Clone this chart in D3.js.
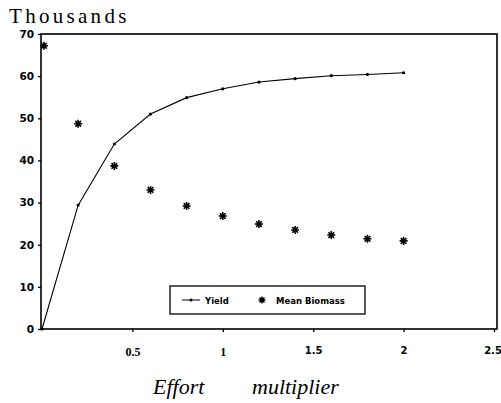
<!DOCTYPE html>
<html><head><meta charset="utf-8">
<script src="https://cdn.jsdelivr.net/npm/d3@7"></script>
<style>body{margin:0;background:#fff}</style>
</head><body>
<svg id="c" width="501" height="403"></svg>
<script>
const effort = [0, 0.2, 0.4, 0.6, 0.8, 1.0, 1.2, 1.4, 1.6, 1.8, 2.0];
const yieldVals = [0, 29.4, 43.9, 51.0, 54.9, 57.0, 58.6, 59.4, 60.1, 60.4, 60.8];
const biomassVals = [67.2, 48.7, 38.7, 33.0, 29.2, 26.8, 24.9, 23.5, 22.3, 21.4, 20.9];
const xTicks = [0.5, 1, 1.5, 2, 2.5];
const xTickLabels = ["0.5", "1", "1.5", "2", "2.5"];
const yTicks = [0, 10, 20, 30, 40, 50, 60, 70];

const svg = d3.select("#c");
const L = 42, R = 494, T = 34, B = 329;
const x = d3.scaleLinear().domain([0, 2.5]).range([L, R]);
const y = d3.scaleLinear().domain([0, 70]).range([B, T]);

// frame
svg.append("rect").attr("x", 41).attr("y", T).attr("width", 497 - 41).attr("height", B - T)
  .attr("fill", "none").attr("stroke", "#000").attr("stroke-width", 1.6);

// y axis
const yAx = svg.append("g").attr("transform", `translate(${41},0)`)
  .call(d3.axisLeft(y).tickValues(yTicks).tickSize(3).tickPadding(4).tickFormat(d3.format("d")));
yAx.select(".domain").remove();
yAx.selectAll("line").attr("stroke-width", 1.3);
yAx.selectAll("text").attr("font-family", "DejaVu Sans").attr("font-weight", "bold")
  .attr("font-size", 10.5).attr("fill", "#000");

// x axis
const xAx = svg.append("g").attr("transform", `translate(0,${B})`)
  .call(d3.axisBottom(x).tickValues(xTicks).tickSize(3).tickPadding(15)
    .tickFormat((d, i) => xTickLabels[i]));
xAx.select(".domain").remove();
xAx.selectAll("line").attr("stroke-width", 1.3);
xAx.selectAll("text").attr("fill", "#000").attr("font-weight", "bold")
  .attr("font-family", (d, i) => i < 2 ? "Liberation Serif" : "DejaVu Sans")
  .attr("font-size", (d, i) => i < 2 ? 12 : 10)
  .attr("dx", (d, i) => i === 4 ? -1.5 : 0);

// yield line
const pts = effort.map((e, i) => [e, yieldVals[i]]);
svg.append("path").datum(pts)
  .attr("d", d3.line().x(d => x(d[0])).y(d => y(d[1])))
  .attr("fill", "none").attr("stroke", "#000").attr("stroke-width", 1.1);
svg.selectAll(".ym").data(pts).enter().append("circle")
  .attr("cx", d => x(d[0])).attr("cy", d => y(d[1])).attr("r", 1.6).attr("fill", "#000");

// asterisks
function aster(s) {
  let p = "";
  for (let k = 0; k < 4; k++) {
    const a = k * Math.PI / 4;
    const dx = Math.cos(a) * s, dy = Math.sin(a) * s;
    p += `M${-dx},${-dy}L${dx},${dy}`;
  }
  return p;
}
const bp = effort.map((e, i) => [e, biomassVals[i]]);
svg.selectAll(".bm").data(bp).enter().append("path")
  .attr("transform", d => `translate(${Math.max(x(d[0]), 44)},${y(d[1])})`)
  .attr("d", aster(4)).attr("stroke", "#000").attr("stroke-width", 1.6).attr("fill", "none");

// legend
const lg = svg.append("g");
lg.append("rect").attr("x", 170).attr("y", 286).attr("width", 195).attr("height", 28)
  .attr("fill", "#fff").attr("stroke", "#000").attr("stroke-width", 1.3);
lg.append("line").attr("x1", 182).attr("x2", 200).attr("y1", 300).attr("y2", 300)
  .attr("stroke", "#000").attr("stroke-width", 1);
lg.append("circle").attr("cx", 191).attr("cy", 300).attr("r", 1.5).attr("fill", "#000");
lg.append("text").attr("x", 205).attr("y", 303.5).text("Yield")
  .attr("font-family", "DejaVu Sans").attr("font-weight", "bold").attr("font-size", 8.5);
lg.append("path").attr("transform", "translate(262,300)").attr("d", aster(3.5))
  .attr("stroke", "#000").attr("stroke-width", 1.5);
lg.append("text").attr("x", 276).attr("y", 303.5).text("Mean Biomass")
  .attr("font-family", "DejaVu Sans").attr("font-weight", "bold").attr("font-size", 8.5);

// titles
svg.append("text").attr("x", 9).attr("y", 23).text("Thousands")
  .attr("font-family", "Liberation Serif").attr("font-size", 21).attr("letter-spacing", 3.3);
svg.append("text").attr("x", 153).attr("y", 394).text("Effort")
  .attr("font-family", "Liberation Serif").attr("font-style", "italic").attr("font-size", 22);
svg.append("text").attr("x", 252).attr("y", 394).text("multiplier")
  .attr("font-family", "Liberation Serif").attr("font-style", "italic").attr("font-size", 22);
</script>
</body></html>
